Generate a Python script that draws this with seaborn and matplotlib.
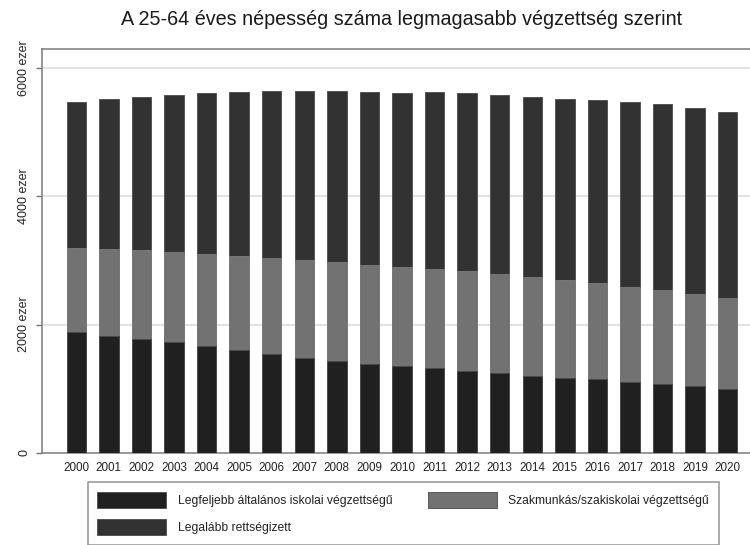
import numpy as np
import pandas as pd
import seaborn as sns
import matplotlib.pyplot as plt
from matplotlib.patches import Patch

sns.set_theme(style="white")
plt.rcParams['font.family'] = ['Liberation Sans', 'DejaVu Sans']

# adatok, ezer fő
years = [str(y) for y in range(2000, 2021)]
alap = [1888, 1825, 1769, 1722, 1665, 1597, 1535, 1482, 1426, 1379, 1347,
        1317, 1279, 1243, 1201, 1165, 1145, 1108, 1072, 1036, 998]
szakmunkas = [1301, 1353, 1388, 1409, 1439, 1476, 1507, 1524, 1549, 1554, 1548,
              1549, 1556, 1545, 1535, 1529, 1507, 1482, 1466, 1440, 1420]
erettsegi = [2287, 2344, 2397, 2454, 2503, 2559, 2601, 2632, 2663, 2689, 2725,
             2756, 2772, 2797, 2813, 2824, 2845, 2886, 2897, 2901, 2902]

labels = ["Legfeljebb általános iskolai végzettségű",
          "Szakmunkás/szakiskolai végzettségű",
          "Legalább rettségizett"]
colors = ["#202020", "#727272", "#323232"]
yticks = [0, 2000, 4000, 6000]
yticklabels = ["0", "2000 ezer", "4000 ezer", "6000 ezer"]

df = pd.DataFrame({"ev": years, "alap": alap, "szak": szakmunkas, "eretts": erettsegi})
df["cum1"] = df["alap"]
df["cum2"] = df["alap"] + df["szak"]
df["cum3"] = df["cum2"] + df["eretts"]

fig = plt.figure(figsize=(7.5, 5.45), dpi=100)
ax = fig.add_axes([42 / 750, 1 - 452.7 / 545, 720 / 750, (452.7 - 49) / 545])

# egymásra rakott oszlopok: a legmagasabbtól lefelé
for col, c in zip(["cum3", "cum2", "cum1"], colors[::-1]):
    sns.barplot(data=df, x="ev", y=col, color=c, width=0.6, saturation=1,
                edgecolor="#4a4a4a" if c != "#727272" else "#7c7c7c",
                linewidth=0.6, ax=ax, zorder=3)

ax.set_xlim(-1.053, 20 + 1.053)
ax.set_ylim(0, 6300)
ax.set_yticks(yticks)
ax.set_yticklabels(yticklabels, rotation=90, va="center", fontsize=9, color="#222222")
ax.tick_params(axis="y", left=True, length=4.3, width=1, color="#777777", pad=4)
ax.tick_params(axis="x", bottom=False, length=0, pad=7, labelsize=8.4, labelcolor="#222222")
ax.set_xlabel("")
ax.set_ylabel("")
ax.grid(False)
for y in yticks[1:]:
    ax.axhline(y, color="#e2e2e2", lw=1.5, zorder=1)
for s in ax.spines.values():
    s.set_color("#7a7a7a")
    s.set_linewidth(1.1)

ax.set_title("A 25-64 éves népesség száma legmagasabb végzettség szerint",
             fontsize=14.2, color="#1a1a1a", pad=17)

handles = [Patch(facecolor=c, edgecolor="#4a4a4a", lw=0.6) for c in colors]
order = [0, 2, 1]
leg = fig.legend([handles[i] for i in order], [labels[i] for i in order],
                 loc="upper left", bbox_to_anchor=(87.7 / 750, 1 - 482 / 545),
                 ncol=2, fontsize=8.7, handlelength=5.7, handleheight=1.65,
                 handletextpad=0.97, columnspacing=2.9, labelspacing=0.95,
                 borderpad=0.8, borderaxespad=0, fancybox=False, frameon=True)
leg.get_frame().set_edgecolor("#7a7a7a")
leg.get_frame().set_linewidth(1.1)
for t in leg.get_texts():
    t.set_color("#222222")

fig.savefig("out.png", dpi=100, facecolor="white")
